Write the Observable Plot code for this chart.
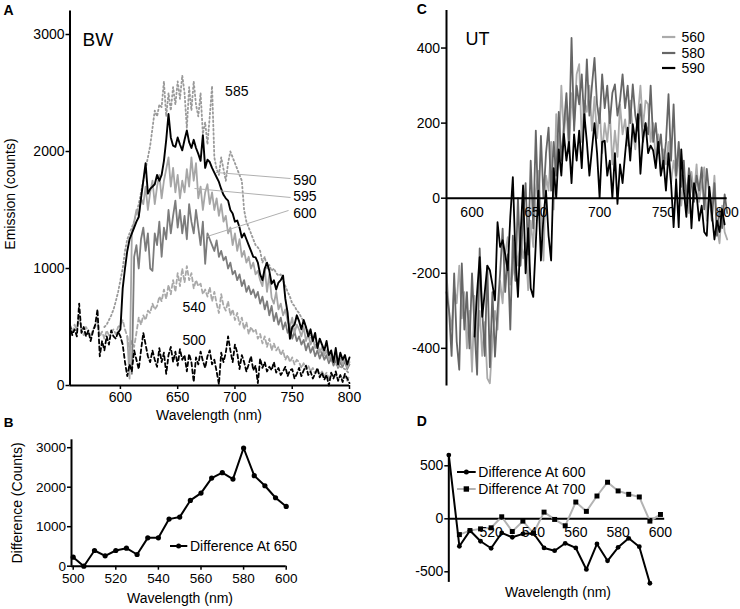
<!DOCTYPE html>
<html><head><meta charset="utf-8">
<script src="https://cdn.jsdelivr.net/npm/d3@7"></script>
<script src="https://cdn.jsdelivr.net/npm/@observablehq/plot@0.6"></script>
<style>
body{margin:0;background:#fff;}
#wrap{position:relative;width:740px;height:609px;overflow:hidden;font-family:"Liberation Sans",Arial,Helvetica,sans-serif;color:#000;background:#fff;}
.t{position:absolute;white-space:nowrap;line-height:1;}
</style></head><body><div id="wrap"></div>
<script>
// ---------- Panel A (BW) : emission spectra, wavelength grid 556..800 step 2 ----------
const wlA = [
556,558,560,562,564,566,568,570,572,574,
576,578,580,582,584,586,588,590,592,594,
596,598,600,602,604,606,608,610,612,614,
616,618,620,622,624,626,628,630,632,634,
636,638,640,642,644,646,648,650,652,654,
656,658,660,662,664,666,668,670,672,674,
676,678,680,682,684,686,688,690,692,694,
696,698,700,702,704,706,708,710,712,714,
716,718,720,722,724,726,728,730,732,734,
736,738,740,742,744,746,748,750,752,754,
756,758,760,762,764,766,768,770,772,774,
776,778,780,782,784,786,788,790,792,794,
796,798,800];
const _ = null;
const A500 = [
520,430,480,420,700,450,500,420,470,380,
460,520,650,250,380,300,420,350,470,420,
400,460,420,350,200,80,180,120,300,220,
140,300,450,350,250,200,300,220,160,320,
200,280,100,260,330,200,290,170,310,220,
260,120,270,200,30,240,180,290,210,150,
250,300,180,220,120,10,280,200,280,420,
300,200,350,280,140,260,200,120,180,250,
130,170,20,230,150,200,120,160,130,200,
110,150,90,120,160,80,130,140,60,100,
150,80,130,170,90,120,60,100,150,70,
110,50,90,0,110,60,120,40,90,30,
100,60,20];
const A540 = [
500,450,520,470,600,480,430,500,460,420,
480,500,560,420,460,400,470,430,460,480,
440,500,520,560,480,420,300,380,330,450,
580,520,600,560,640,620,700,650,680,760,
720,820,740,860,780,900,800,960,850,1000,
880,1020,900,960,830,900,850,870,780,820,
760,840,720,800,700,620,780,680,640,720,
600,650,560,620,520,580,480,540,440,500,
460,480,400,440,360,420,330,400,300,360,
300,330,260,300,220,260,200,240,180,220,
200,150,190,140,170,120,150,100,130,90,
120,80,110,60,100,70,90,50,80,60,
70,40,90];
const A585 = [
_,_,_,_,_,_,_,_,_,_,
_,_,_,_,_,500,520,560,600,650,
720,800,900,1000,1150,1250,1300,1350,1400,1480,
1550,1650,1750,1850,1950,2050,2200,2350,2300,2400,
2380,2600,2300,2500,2350,2550,2400,2600,2450,2650,
2500,2200,2550,2350,2600,2400,2300,2500,2150,2250,
2060,2300,2560,1950,1850,1800,1950,1850,1750,1900,
2000,1950,1900,1850,1800,1750,1500,1400,1350,1300,
1250,1200,1180,1150,1050,1100,1000,1030,980,1000,
960,940,950,900,850,800,760,700,680,640,
620,580,550,500,460,420,380,350,320,300,
280,260,240,220,210,200,180,170,160,150,
140,120,100];
const A590 = [
_,_,_,_,_,_,_,_,_,_,
_,_,_,_,_,_,_,_,_,_,
_,450,480,830,1000,1150,1250,1300,1350,1400,
1440,1600,1750,1900,1640,1680,1700,1720,1800,1750,
1800,1920,2100,2320,2120,2050,2040,2120,2060,2010,
2100,2180,2080,2030,2100,2030,1980,1920,2140,1860,
1930,1910,1860,1820,1780,1740,1680,1630,1600,1580,
1500,1470,1400,1410,1350,1265,1300,1250,1200,1150,
1100,1095,1050,950,900,1000,1050,980,870,900,
820,880,900,940,740,620,400,500,520,600,
550,480,560,500,420,480,380,450,320,400,
350,300,380,260,300,200,320,180,280,220,
260,180,240];
const A595 = [
_,_,_,_,_,_,_,_,_,_,
_,_,_,_,_,_,_,_,_,_,
_,_,_,_,_,420,60,1300,1400,1500,
1450,1600,1550,1700,1500,1650,1750,1550,1700,1800,
1600,1750,1850,1950,1700,1860,1650,1800,1600,1750,
1650,1850,1700,1950,1750,1900,1600,1700,1500,1650,
1720,1550,1650,1500,1600,1450,1550,1400,1450,1300,
1350,1200,1300,1150,1250,1100,1150,1050,1100,1000,
1050,950,980,900,850,1000,800,950,750,700,
800,650,700,600,650,550,500,580,450,520,
480,420,500,380,440,350,400,320,360,280,
330,260,300,220,280,200,250,160,230,180,
240,150,200];
const A600 = [
_,_,_,_,_,_,_,_,_,_,
_,_,_,_,_,_,_,_,_,_,
_,_,_,_,_,_,_,100,1100,1200,
1000,1250,1350,1150,1300,1000,980,1300,1200,1400,
1100,1350,1250,1500,1300,1450,1580,1350,1500,1300,
1450,1250,1550,1400,1300,1500,1350,1200,1400,1040,
1300,1250,1200,1150,1240,1100,1150,1070,1100,1000,
1050,950,980,900,950,850,900,800,850,780,
820,750,800,700,760,650,720,600,680,550,
620,520,580,480,540,450,500,400,460,380,
420,350,390,300,360,280,330,250,300,230,
280,220,260,190,240,170,220,150,200,160,
210,140,180];
const ticksAx = [600,650,700,750,800];
const ticksAy = [0,1000,2000,3000];
// curve labels (data units) and leader lines
const labelsA = [
  {text:"585", x:701.6, y:2510},
  {text:"590", x:761, y:1750},
  {text:"595", x:761, y:1614},
  {text:"600", x:761, y:1470},
  {text:"540", x:664.4, y:669},
  {text:"500", x:664.4, y:385}];
const leadersA = [
  {x1:683, y1:1821, x2:748.5, y2:1769},
  {x1:664.7, y1:1684, x2:748.5, y2:1607},
  {x1:675.8, y1:1274, x2:746.8, y2:1496}];

// ---------- Panel C (UT) : grid 580..800 step 2 ----------
const wlC = [
580,582,584,586,588,590,592,594,596,598,
600,602,604,606,608,610,612,614,616,618,
620,622,624,626,628,630,632,634,636,638,
640,642,644,646,648,650,652,654,656,658,
660,662,664,666,668,670,672,674,676,678,
680,682,684,686,688,690,692,694,696,698,
700,702,704,706,708,710,712,714,716,718,
720,722,724,726,728,730,732,734,736,738,
740,742,744,746,748,750,752,754,756,758,
760,762,764,766,768,770,772,774,776,778,
780,782,784,786,788,790,792,794,796,798,
800];
const C560 = [
-200,-300,-350,-236,-280,-180,-320,-250,-400,-300,
-462,-260,-400,-300,-420,-330,-480,-493,-380,-300,
-350,-220,-280,-150,-104,-230,-200,-120,-180,-100,
-160,-120,-245,-60,-130,20,73,-40,-166,60,
20,150,-30,224,100,300,170,240,120,280,
200,330,357,150,260,230,300,180,270,160,
240,120,200,150,230,90,180,110,250,170,
210,140,260,180,130,220,300,190,260,250,
150,200,100,170,60,130,90,150,40,100,
50,120,-20,60,30,-40,70,10,90,-10,
40,82,-60,20,-30,60,-80,-120,-20,-90,
-110];
const C580 = [
-250,-300,-420,-200,-382,-457,-174,-350,-250,-400,
-200,-350,-470,-134,-300,-420,-180,-450,-250,-422,
-300,-200,-81,-250,-150,-350,-100,-220,0,-180,
-50,40,-150,100,-80,180,-40,166,0,120,
188,20,150,60,230,100,190,280,150,427,
180,300,250,330,200,370,220,300,374,250,
200,330,240,300,200,280,303,220,260,330,
240,300,200,303,220,180,250,150,200,170,
300,150,200,120,170,80,150,277,100,250,
60,150,30,100,-20,80,40,-10,60,20,
82,-30,78,10,-60,40,-100,-30,-80,10,
-40];
const C590 = [
_,_,_,_,_,_,_,_,_,_,
_,-369,-250,-157,-316,-250,-180,-192,-230,-272,
-64,-130,-112,-150,-192,-50,56,-150,-263,-100,
34,-200,-80,-240,-263,-120,20,-166,-50,20,
-100,-166,80,0,130,60,171,100,150,40,
170,100,180,80,224,150,60,130,200,120,
0,150,153,60,100,0,120,-15,90,40,
118,188,100,197,150,224,65,160,200,120,
140,127,80,150,60,100,20,120,40,-77,
50,-77,130,20,-50,60,-80,40,10,-60,
-20,-90,-100,30,-40,-110,-60,-90,-30,-70,
_];
const ticksCx = [600,650,700,750,800];
const ticksCy = [-400,-200,0,200,400];

// ---------- Panel B : difference at 650 ----------
const wlB = [500,505,510,515,520,525,530,535,540,545,550,555,560,565,570,575,580,585,590,595,600];
const diff650 = [228,0,397,262,397,456,296,718,718,1192,1243,1665,1851,2231,2367,2206,2992,2291,2037,1733,1513];
const ticksBx = [500,520,540,560,580,600];
const ticksBy = [0,1000,2000,3000];

// ---------- Panel D : differences at 600 and 700 ----------
const wlD600 = [500,505,510,515,520,525,530,535,540,545,550,555,560,565,570,575,580,585,590,595];
const diff600 = [601,-259,-111,-212,-278,-133,-174,-142,-136,-275,-301,-231,-275,-478,-237,-396,-269,-184,-263,-608];
const wlD700 = [505,510,515,520,525,530,535,540,545,550,555,560,565,570,575,580,585,590,595,600];
const diff700 = [-149,-111,-95,-85,19,-120,-22,-136,63,-6,-66,158,70,215,345,263,231,206,-22,41];
const ticksDx = [520,540,560,580,600];
const ticksDy = [-500,0,500];

// ---------- drawing ----------
const FONT = '"Liberation Sans", Arial, Helvetica, sans-serif';
const wrap = document.getElementById("wrap");
const baseStyle = {fontFamily: FONT, fontSize: "14px", background: "transparent", color: "#000", overflow: "visible"};
function place(svg, left, top) {
  svg.style.position = "absolute";
  svg.style.left = left + "px";
  svg.style.top = top + "px";
  wrap.appendChild(svg);
}
function txt(s, x, y, o = {}) {
  const d = document.createElement("div");
  d.className = "t";
  d.textContent = s;
  d.style.left = x + "px";
  d.style.top = y + "px";
  d.style.fontSize = (o.size || 14) + "px";
  if (o.bold) d.style.fontWeight = "bold";
  const tx = o.anchor === "start" ? "0" : "-50%";
  d.style.transform = `translate(${tx},-50%)` + (o.rotate ? " rotate(-90deg)" : "");
  wrap.appendChild(d);
  return d;
}
function series(wl, vals) { return wl.map((w, i) => ({x: w, y: vals[i]})); }

// Panel A
const sA = [
  {v: A585, stroke: "#9a9a9a", dash: "1.6,2.6", w: 1.8},
  {v: A540, stroke: "#a9a9a9", dash: "4,3", w: 1.8},
  {v: A600, stroke: "#7c7c7c", dash: null, w: 1.8},
  {v: A595, stroke: "#a6a6a6", dash: null, w: 1.8},
  {v: A590, stroke: "#000", dash: null, w: 1.9},
  {v: A500, stroke: "#000", dash: "4,3", w: 1.8}];
place(Plot.plot({
  width: 370, height: 420,
  marginLeft: 69.5, marginRight: 21, marginTop: 10.6, marginBottom: 35,
  style: baseStyle,
  x: {domain: [556, 800], label: null},
  y: {domain: [0, 3200], label: null},
  marks: [
    ...sA.map(s => Plot.line(series(wlA, s.v), {x: "x", y: "y", stroke: s.stroke, strokeWidth: s.w, strokeDasharray: s.dash})),
    Plot.link(leadersA, {x1: "x1", y1: "y1", x2: "x2", y2: "y2", stroke: "#b0b0b0", strokeWidth: 1}),
    Plot.text(labelsA, {x: "x", y: "y", text: "text", fontSize: 14, fill: "#000"}),
    Plot.ruleX([556], {strokeWidth: 2}),
    Plot.ruleY([0], {strokeWidth: 2}),
    Plot.axisX({ticks: ticksAx, tickSize: 4, tickPadding: 3, strokeWidth: 1.5, tickFormat: d => String(d), label: null}),
    Plot.axisY({ticks: ticksAy, tickSize: 4, tickPadding: 1.5, strokeWidth: 1.5, tickFormat: d => String(d), label: null})
  ]
}), 0, 0);

// Panel C
const sC = [
  {v: C560, stroke: "#ababab", name: "560"},
  {v: C580, stroke: "#666666", name: "580"},
  {v: C590, stroke: "#000000", name: "590"}];
place(Plot.plot({
  width: 370, height: 400,
  marginLeft: 76, marginRight: 13.3, marginTop: 10, marginBottom: 14.6,
  style: baseStyle,
  x: {domain: [580, 800], axis: null},
  y: {domain: [-500, 500], label: null},
  marks: [
    ...sC.map(s => Plot.line(series(wlC, s.v), {x: "x", y: "y", stroke: s.stroke, strokeWidth: 1.8})),
    Plot.ruleX([580], {strokeWidth: 2}),
    Plot.ruleY([0], {strokeWidth: 2}),
    Plot.text(ticksCx, {x: d => d, y: 0, dy: 14, text: d => String(d), fontSize: 14}),
    Plot.axisY({ticks: ticksCy, tickSize: 5, tickPadding: 1.5, strokeWidth: 1.5, tickFormat: d => String(d), label: null})
  ]
}), 370, 0);

// Panel B
place(Plot.plot({
  width: 370, height: 209,
  marginLeft: 71, marginRight: 84.3, marginTop: 39.3, marginBottom: 43.3,
  style: {...baseStyle, fontSize: "13.5px"},
  x: {domain: [499.2, 600], label: null},
  y: {domain: [0, 3200], label: null},
  marks: [
    Plot.line(series(wlB, diff650), {x: "x", y: "y", stroke: "#000", strokeWidth: 2}),
    Plot.dot(series(wlB, diff650), {x: "x", y: "y", r: 2.6, fill: "#000"}),
    Plot.ruleX([499.2], {strokeWidth: 2}),
    Plot.ruleY([0], {strokeWidth: 2}),
    Plot.axisX({ticks: ticksBx, tickSize: 4, tickPadding: 3.5, strokeWidth: 1.5, tickFormat: d => String(d), label: null}),
    Plot.axisY({ticks: ticksBy, tickSize: 4, tickPadding: 1.5, strokeWidth: 1.5, tickFormat: d => String(d), label: null})
  ]
}), 0, 400);

// Panel D
place(Plot.plot({
  width: 370, height: 209,
  marginLeft: 78.3, marginRight: 75.8, marginTop: 54.7, marginBottom: 27.1,
  style: baseStyle,
  x: {domain: [500, 602], axis: null},
  y: {domain: [-600, 600], label: null},
  marks: [
    Plot.ruleY([0], {strokeWidth: 2}),
    Plot.line(series(wlD700, diff700), {x: "x", y: "y", stroke: "#b3b3b3", strokeWidth: 2}),
    Plot.dot(series(wlD700, diff700), {x: "x", y: "y", symbol: "square", r: 2.8, fill: "#000"}),
    Plot.line(series(wlD600, diff600), {x: "x", y: "y", stroke: "#000", strokeWidth: 2}),
    Plot.dot(series(wlD600, diff600), {x: "x", y: "y", r: 2.4, fill: "#000"}),
    Plot.ruleX([500], {strokeWidth: 2}),
    Plot.text(ticksDx, {x: d => d, y: 0, dy: 14, text: d => String(d), fontSize: 14}),
    Plot.axisY({ticks: ticksDy, tickSize: 4, tickPadding: 1.5, strokeWidth: 1.5, tickFormat: d => String(d), label: null})
  ]
}), 370, 400);

// ---------- texts ----------
txt("A", 8.5, 10, {bold: true, size: 14});
txt("B", 8.5, 422.5, {bold: true, size: 13.5});
txt("C", 421.7, 8.5, {bold: true, size: 14});
txt("D", 421.7, 421.3, {bold: true, size: 14});
txt("BW", 82.5, 38.5, {size: 19, anchor: "start"});
txt("UT", 465.5, 38.7, {size: 18, anchor: "start"});
txt("Emission (counts)", 9.5, 193.5, {rotate: true});
txt("Wavelength (nm)", 209, 414.5);
txt("Difference (Counts)", 16.5, 503, {rotate: true});
txt("Wavelength (nm)", 180, 598);
txt("Wavelength (nm)", 558, 592);

// ---------- legends ----------
function swatch(x, y, w, color, marker, sw) {
  const ns = "http://www.w3.org/2000/svg";
  const s = document.createElementNS(ns, "svg");
  s.setAttribute("width", w + 4); s.setAttribute("height", 10);
  s.style.position = "absolute"; s.style.left = (x - 2) + "px"; s.style.top = (y - 5) + "px";
  s.innerHTML = `<line x1="2" y1="5" x2="${w + 2}" y2="5" stroke="${color}" stroke-width="${sw}"/>` +
    (marker === "dot" ? `<circle cx="${w / 2 + 2}" cy="5" r="2.5" fill="#000"/>` : "") +
    (marker === "square" ? `<rect x="${w / 2 - 0.7}" y="2.3" width="5.4" height="5.4" fill="#000"/>` : "");
  wrap.appendChild(s);
}
sC.forEach((s, i) => {
  const y = [37, 52.5, 68][i];
  swatch(661.7, y, 13.3, s.stroke, null, 2.2);
  txt(s.name, 681.5, y, {anchor: "start"});
});
swatch(170, 545.7, 17.3, "#000", "dot", 2);
txt("Difference At 650", 190, 545.7, {anchor: "start"});
swatch(457.3, 471.7, 18.7, "#000", "dot", 2);
txt("Difference At 600", 478.3, 471.7, {anchor: "start"});
swatch(457.3, 489.3, 18.7, "#b3b3b3", "square", 2);
txt("Difference At 700", 478.3, 489.3, {anchor: "start"});
</script></body></html>
